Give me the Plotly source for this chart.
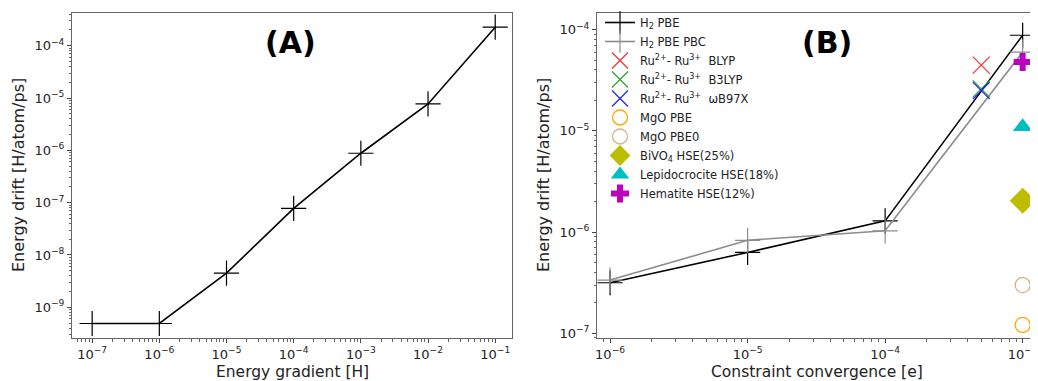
import plotly.graph_objects as go

# ---- Panel A data ----
grad_x = [1e-7, 1e-6, 1e-5, 1e-4, 1e-3, 1e-2, 1e-1]
grad_drift = [4.9e-10, 4.9e-10, 4.5e-9, 7.8e-8, 8.8e-7, 7.7e-6, 2.26e-4]

# ---- Panel B data ----
conv_x = [1e-6, 1e-5, 1e-4, 1e-3]
h2_pbe = [3.16e-7, 6.3e-7, 1.29e-6, 8.8e-5]
h2_pbe_pbc = [3.36e-7, 8.3e-7, 1.03e-6, 6.0e-5]
ru_x = [5e-4]
ru_blyp = [4.46e-5]
ru_b3lyp = [2.6e-5]
ru_wb97x = [2.5e-5]
single_x = [1e-3]
mgo_pbe = [1.21e-7]
mgo_pbe0 = [3.0e-7]
bivo4 = [2.04e-6]
lepido = [1.1e-5]
hematite = [4.8e-5]

a_xticks = [1e-7, 1e-6, 1e-5, 1e-4, 1e-3, 1e-2, 1e-1]
a_xlabels = ["10<sup>−7</sup>", "10<sup>−6</sup>", "10<sup>−5</sup>", "10<sup>−4</sup>",
             "10<sup>−3</sup>", "10<sup>−2</sup>", "10<sup>−1</sup>"]
a_yticks = [1e-9, 1e-8, 1e-7, 1e-6, 1e-5, 1e-4]
a_ylabels = ["10<sup>−9</sup>", "10<sup>−8</sup>", "10<sup>−7</sup>", "10<sup>−6</sup>",
             "10<sup>−5</sup>", "10<sup>−4</sup>"]
b_xticks = [1e-6, 1e-5, 1e-4, 1e-3]
b_xlabels = ["10<sup>−6</sup>", "10<sup>−5</sup>", "10<sup>−4</sup>", "10<sup>−3</sup>"]
b_yticks = [1e-7, 1e-6, 1e-5, 1e-4]
b_ylabels = ["10<sup>−7</sup>", "10<sup>−6</sup>", "10<sup>−5</sup>", "10<sup>−4</sup>"]

FONT = "DejaVu Sans"
TXT = "#222222"
OFF = 8                     # default page body margin
W, H = 1038 - OFF, 381 - OFF


def px(x):
    return (x - OFF) / W


def py(y):
    return 1 - (y - OFF) / H


fig = go.Figure()

fig.add_trace(go.Scatter(x=grad_x, y=grad_drift, mode="lines+markers",
                         line=dict(color="black", width=1.6),
                         marker=dict(symbol="cross-thin", size=18, line=dict(color="black", width=1.2)),
                         xaxis="x", yaxis="y", showlegend=False))

fig.add_trace(go.Scatter(x=conv_x, y=h2_pbe, mode="lines+markers", name="H<sub>2</sub> PBE",
                         line=dict(color="black", width=1.6),
                         marker=dict(symbol="cross-thin", size=18, line=dict(color="black", width=1.2)),
                         xaxis="x2", yaxis="y2", cliponaxis=False))
fig.add_trace(go.Scatter(x=conv_x, y=h2_pbe_pbc, mode="lines+markers", name="H<sub>2</sub> PBE PBC",
                         line=dict(color="#8c8c8c", width=1.6),
                         marker=dict(symbol="cross-thin", size=18, line=dict(color="#8c8c8c", width=1.2)),
                         xaxis="x2", yaxis="y2", cliponaxis=False))


def pt(x, y, name, symbol, size, color, lw=1.2):
    if "open" in symbol or "thin" in symbol:
        m = dict(symbol=symbol, size=size, color=color, line=dict(color=color, width=lw))
    else:
        m = dict(symbol=symbol, size=size, color=color, line=dict(width=0))
    fig.add_trace(go.Scatter(x=x, y=y, mode="markers", name=name, marker=m,
                             xaxis="x2", yaxis="y2", cliponaxis=False))


pt(ru_x, ru_blyp, "Ru<sup>2+</sup>- Ru<sup>3+</sup>  BLYP", "x-thin", 17, "#ff3030")
pt(ru_x, ru_b3lyp, "Ru<sup>2+</sup>- Ru<sup>3+</sup>  B3LYP", "x-thin", 17, "#2ca02c")
pt(ru_x, ru_wb97x, "Ru<sup>2+</sup>- Ru<sup>3+</sup>  ωB97X", "x-thin", 17, "#1f1fff")
pt(single_x, mgo_pbe, "MgO PBE", "circle-open", 15, "#ffa500", lw=1.3)
pt(single_x, mgo_pbe0, "MgO PBE0", "circle-open", 15, "#d2b48c", lw=1.3)
pt(single_x, bivo4, "BiVO<sub>4</sub> HSE(25%)", "diamond", 20, "#bdbd00")
pt(single_x, lepido, "Lepidocrocite HSE(18%)", "triangle-up", 17, "#00bfbf")
pt(single_x, hematite, "Hematite HSE(12%)", "cross", 15, "#bf00bf")


def minor_vals(lo, hi):
    return [m * 10.0 ** e for e in range(lo, hi) for m in range(2, 10)]


def axis(domain, rng, tv, tt, anchor, minors):
    return dict(type="log", domain=domain, range=rng, anchor=anchor, automargin=False,
                tickmode="array", tickvals=tv, ticktext=tt, ticks="outside", ticklen=4, tickwidth=1,
                tickcolor="#444", showline=True, linecolor="#666", linewidth=1, mirror=True,
                showgrid=False, zeroline=False,
                minor=dict(tickmode="array", tickvals=minors, ticks="outside", ticklen=2.5,
                           tickwidth=0.8, tickcolor="#666", showgrid=False),
                tickfont=dict(family=FONT, size=13, color=TXT))


def ann(text, x, y, size=16, angle=0, color=TXT):
    return dict(text=text, x=px(x), y=py(y), xref="paper", yref="paper", showarrow=False,
                textangle=angle, xanchor="center", yanchor="middle",
                font=dict(family=FONT, size=size, color=color))


fig.update_layout(
    width=W, height=H, margin=dict(l=0, r=0, t=0, b=0, autoexpand=False),
    paper_bgcolor="white", plot_bgcolor="white",
    xaxis=axis([px(72), px(512)], [-7.30, -0.75], a_xticks, a_xlabels, "y", minor_vals(-8, 0)),
    yaxis=axis([py(338), py(13)], [-9.587, -3.375], a_yticks, a_ylabels, "x", minor_vals(-10, -3)),
    xaxis2=axis([px(597), px(1036)], [-6.095, -2.903], b_xticks, b_xlabels, "y2", minor_vals(-7, -2)),
    yaxis2=axis([py(338), py(13)], [-7.046, -3.836], b_yticks, b_ylabels, "x2", minor_vals(-8, -3)),
    legend=dict(x=px(600), y=1.0, xanchor="left", yanchor="top", bgcolor="rgba(0,0,0,0)",
                font=dict(family=FONT, size=11.5, color=TXT), tracegroupgap=0, itemwidth=30),
    annotations=[
        ann("<b>(A)</b>", 290, 42, size=30, color="black"),
        ann("<b>(B)</b>", 827, 42, size=30, color="black"),
        ann("Energy gradient [H]", 292, 372, size=15.5),
        ann("Constraint convergence [e]", 817, 372, size=15.5),
        ann("Energy drift [H/atom/ps]", 18, 175, angle=-90),
        ann("Energy drift [H/atom/ps]", 543, 175, angle=-90),
    ],
)

fig.write_html("out.html")
